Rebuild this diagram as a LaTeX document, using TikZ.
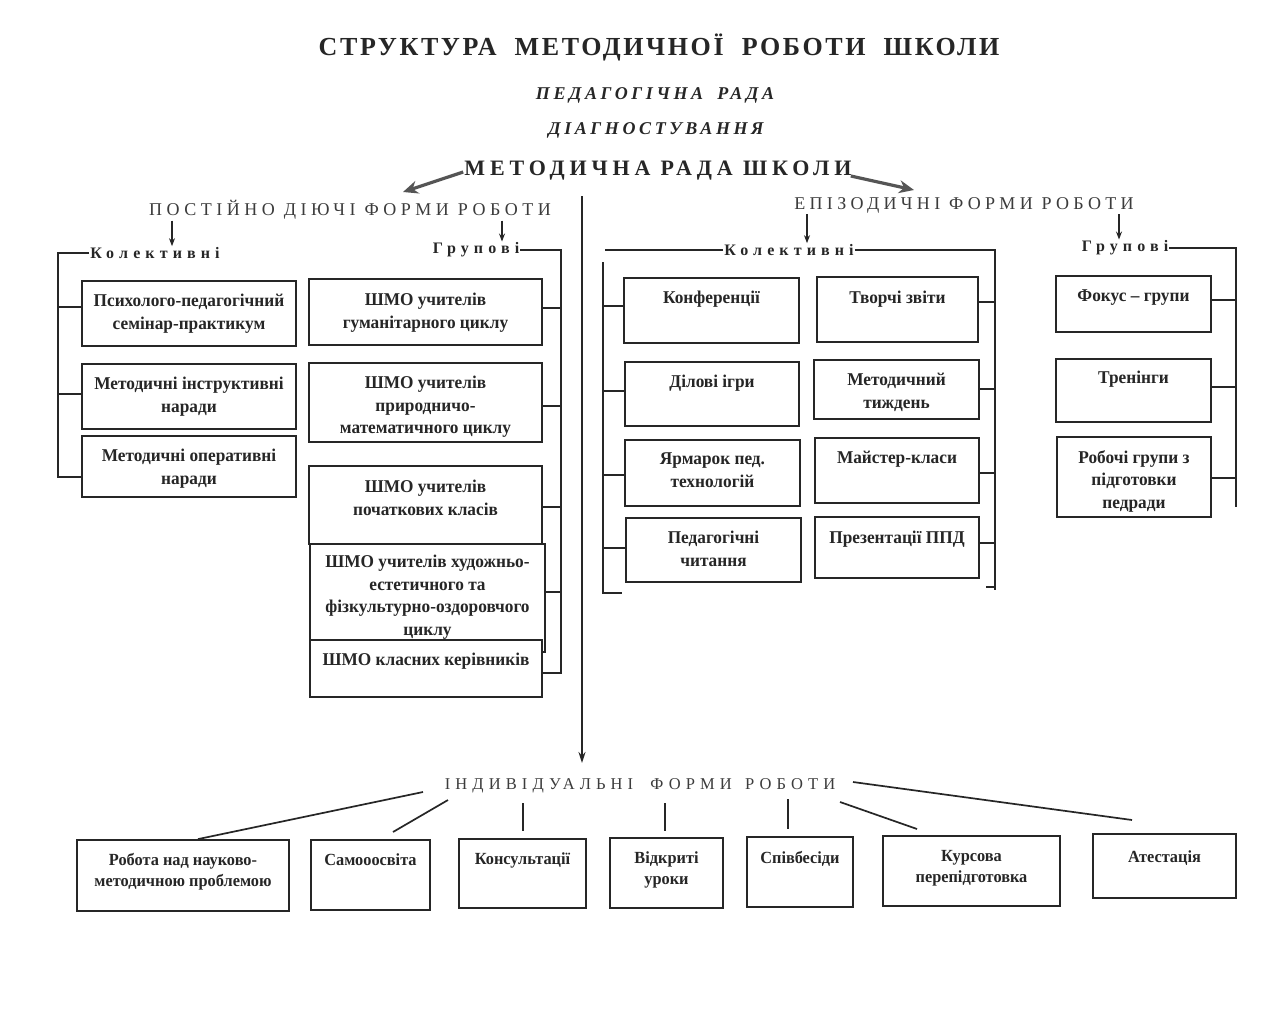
\documentclass[tikz,border=0pt]{standalone}
\usepackage{fontspec}
\setmainfont{Liberation Serif}
\newfontfamily\bxfam[FakeStretch=0.96]{Liberation Serif}
\usetikzlibrary{arrows.meta,calc,fit}
\definecolor{ink}{HTML}{262626}
\definecolor{inkl}{HTML}{3C3C3C}
\definecolor{arrg}{HTML}{555555}
\tikzset{
  box/.style={draw=ink, line width=1.8pt, inner sep=0pt, fill=white},
  bt/.style={anchor=north, align=center, inner sep=0pt, text=ink,
     font={\bxfam\bfseries\fontsize{18}{22.5}\selectfont}},
  bbt/.style={anchor=north, align=center, inner sep=0pt, text=ink,
     font={\bxfam\bfseries\fontsize{17}{21}\selectfont}},
  lnk/.style={draw=ink, line width=1.7pt},
  sarr/.style={draw=ink, line width=1.1pt, -{Stealth[length=8pt,width=6pt]}},
  barr/.style={draw=arrg, line width=3.2pt, -{Stealth[length=15pt,width=13pt]}},
  varr/.style={draw=ink, line width=1.7pt, -{Stealth[length=11pt,width=7pt]}},
  hd/.style={inner sep=1pt, text=ink},
}
\newcommand\bxt[8][bt]{%
  \coordinate (#2-a) at (#3,#4); \coordinate (#2-b) at (#5,#6);
  \node[box, fit=(#2-a)(#2-b)] (#2) {};
  \node[#1] (#2-t) at ({(#3+#5)/2},{#7-7}) {#8};}
\begin{document}
\begin{tikzpicture}[x=1pt,y=-1pt]
\useasboundingbox[fill=white] (0,0) rectangle (1266,1028);

% ---------- headings ----------
\node[hd, font={\fontsize{26}{30}\selectfont\bfseries\addfontfeature{LetterSpace=10}}] (title) at (659,47)
  {СТРУКТУРА\hspace{9pt} МЕТОДИЧНОЇ\hspace{9pt} РОБОТИ\hspace{9pt} ШКОЛИ};
\node[hd, font={\fontsize{18}{22}\selectfont\bfseries\itshape\addfontfeature{LetterSpace=20}}] (ped) at (655,95)
  {ПЕДАГОГІЧНА\hspace{6pt} РАДА};
\node[hd, font={\fontsize{18}{22}\selectfont\bfseries\itshape\addfontfeature{LetterSpace=20}}] (diag) at (656,130)
  {ДІАГНОСТУВАННЯ};
\node[hd, font={\fontsize{22}{26}\selectfont\bfseries\addfontfeature{LetterSpace=22}}] (mrs) at (658,171)
  {МЕТОДИЧНА РАДА ШКОЛИ};
\node[hd, text=inkl, font={\fontsize{18}{22}\selectfont\addfontfeature{LetterSpace=25}}] (post) at (350,210)
  {ПОСТІЙНО ДІЮЧІ ФОРМИ РОБОТИ};
\node[hd, text=inkl, font={\fontsize{18}{22}\selectfont\addfontfeature{LetterSpace=24}}] (epi) at (964,205)
  {ЕПІЗОДИЧНІ ФОРМИ РОБОТИ};
\node[hd, text=inkl, font={\fontsize{16.5}{20}\selectfont\addfontfeature{LetterSpace=31}}] (ind) at (640,786)
  {ІНДИВІДУАЛЬНІ\hspace{8pt} ФОРМИ\hspace{4pt} РОБОТИ};

\tikzset{sub/.style={hd, font={\fontsize{16}{19}\selectfont\bfseries\addfontfeature{LetterSpace=32}}}}
\node[sub] (kolL) at (155,253) {Колективні};
\node[sub] (grpM) at (476,250) {Групові};
\node[sub] (kolR) at (789,250) {Колективні};
\node[sub] (grpR) at (1125,248) {Групові};

% ---------- arrows from methodical council ----------
\draw[barr] ($(mrs.west)+(0,1)$) -- (403,192);
\draw[barr] ($(mrs.east)+(-2,5)$) -- (914,190);
\coordinate (vtop) at (582,196);
\coordinate (vbot) at (582,763);
\draw[varr] (vtop) -- (vbot);

% small arrows
\draw[sarr] (post.south -| 172,0) -- (kolL.north -| 172,0);
\draw[sarr] (post.south -| 502,0) -- (grpM.north -| 502,0);
\draw[sarr] (epi.south -| 807,0) -- (kolR.north -| 807,0);
\draw[sarr] (epi.south -| 1119,0) -- (grpR.north -| 1119,0);

% ---------- left: permanent collective ----------
\bxt{p1}{82}{281}{296}{346}{301}{Психолого-педагогічний\\семінар-практикум}
\bxt{p2}{82}{364}{296}{429}{384}{Методичні інструктивні\\наради}
\bxt{p3}{82}{436}{296}{497}{456}{Методичні оперативні\\наради}
\coordinate (lc) at (58,253);
\coordinate (lb) at (58,477);
\draw[lnk] (kolL.west) -- (lc) -- (lb) -- (lb -| p3.west);
\draw[lnk] (p1.west |- 0,307) -- (lc |- 0,307);
\draw[lnk] (p2.west |- 0,394) -- (lc |- 0,394);

% ---------- middle: permanent group ----------
\bxt{g1}{309}{279}{542}{345}{300}{ШМО учителів\\гуманітарного циклу}
\bxt{g2}{309}{363}{542}{442}{383}{ШМО учителів\\природничо-\\математичного циклу}
\bxt{g3}{309}{466}{542}{544}{487}{ШМО учителів\\початкових класів}
\bxt{g4}{310}{544}{545}{652}{562}{ШМО учителів художньо-\\естетичного та\\фізкультурно-оздоровчого\\циклу}
\bxt{g5}{310}{640}{542}{697}{660}{ШМО класних керівників}
\coordinate (mc) at (561,250);
\coordinate (mb) at (561,673);
\draw[lnk] (grpM.east) -- (mc) -- (mb) -- (mb -| g5.east);
\draw[lnk] (g1.east |- 0,308) -- (mc |- 0,308);
\draw[lnk] (g2.east |- 0,406) -- (mc |- 0,406);
\draw[lnk] (g3.east |- 0,507) -- (mc |- 0,507);
\draw[lnk] (g4.east |- 0,592) -- (mc |- 0,592);

% ---------- right: episodic collective ----------
\bxt{k1}{624}{278}{799}{343}{298}{Конференції}
\bxt{k2}{625}{362}{799}{426}{382}{Ділові ігри}
\bxt{k3}{625}{440}{800}{506}{460}{Ярмарок пед.\\технологій}
\bxt{k4}{626}{518}{801}{582}{538}{Педагогічні\\читання}
\bxt{t1}{817}{277}{978}{342}{298}{Творчі звіти}
\bxt{t2}{814}{360}{979}{419}{380}{Методичний\\тиждень}
\bxt{t3}{815}{438}{979}{503}{458}{Майстер-класи}
\bxt{t4}{815}{517}{979}{578}{538}{Презентації ППД}
\coordinate (rlt) at (603,262);
\coordinate (rlb) at (603,593);
\coordinate (rrc) at (995,250);
\coordinate (rrb) at (995,590);
\draw[lnk] (kolR.west) -- (605,250);
\draw[lnk] (kolR.east) -- (rrc) -- (rrb);
\draw[lnk] (rlt) -- (rlb) -- ++(19,0);
\draw[lnk] (k1.west |- 0,306) -- (rlt |- 0,306);
\draw[lnk] (k2.west |- 0,391) -- (rlt |- 0,391);
\draw[lnk] (k3.west |- 0,475) -- (rlt |- 0,475);
\draw[lnk] (k4.west |- 0,548) -- (rlt |- 0,548);
\draw[lnk] (t1.east |- 0,302) -- (rrc |- 0,302);
\draw[lnk] (t2.east |- 0,389) -- (rrc |- 0,389);
\draw[lnk] (t3.east |- 0,473) -- (rrc |- 0,473);
\draw[lnk] (t4.east |- 0,543) -- (rrc |- 0,543);
\draw[lnk] (986,587) -- (rrc |- 0,587);

% ---------- right: episodic group ----------
\bxt{f1}{1056}{276}{1211}{332}{297}{Фокус – групи}
\bxt{f2}{1056}{359}{1211}{422}{378}{Тренінги}
\bxt{f3}{1057}{437}{1211}{517}{457}{Робочі групи з\\підготовки\\педради}
\coordinate (gc) at (1236,248);
\coordinate (gb) at (1236,507);
\draw[lnk] (grpR.east) -- (gc) -- (gb);
\draw[lnk] (f1.east |- 0,300) -- (gc |- 0,300);
\draw[lnk] (f2.east |- 0,387) -- (gc |- 0,387);
\draw[lnk] (f3.east |- 0,478) -- (gc |- 0,478);

% ---------- bottom: individual ----------
\bxt[bbt]{b1}{77}{840}{289}{911}{860}{Робота над науково-\\методичною проблемою}
\bxt[bbt]{b2}{311}{840}{430}{910}{860}{Самооосвіта}
\bxt[bbt]{b3}{459}{839}{586}{908}{859}{Консультації}
\bxt[bbt]{b4}{610}{838}{723}{908}{858}{Відкриті\\уроки}
\bxt[bbt]{b5}{747}{837}{853}{907}{858}{Співбесіди}
\bxt[bbt]{b6}{883}{836}{1060}{906}{857}{Курсова\\перепідготовка}
\bxt[bbt]{b7}{1093}{834}{1236}{898}{857}{Атестація}
\draw[lnk] (423,792) -- (b1.north -| 198,0);
\draw[lnk] (448,800) -- (393,832);
\draw[lnk] (523,803) -- (523,831);
\draw[lnk] (665,803) -- (665,831);
\draw[lnk] (788,799) -- (788,829);
\draw[lnk] (840,802) -- (917,829);
\draw[lnk] (853,782) -- (1132,820);
\end{tikzpicture}
\end{document}
